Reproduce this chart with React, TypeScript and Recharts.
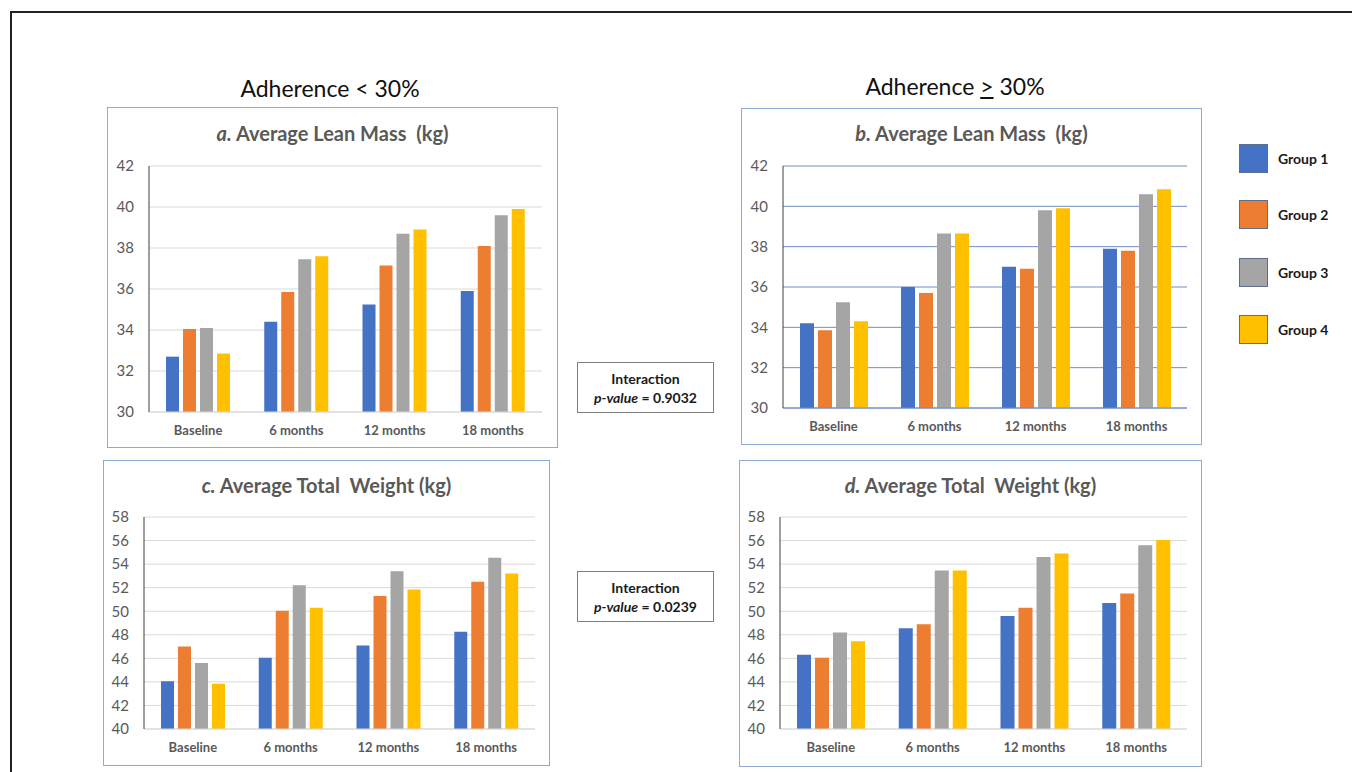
import React from 'react';
import { BarChart, Bar, XAxis, YAxis, CartesianGrid } from 'recharts';

const categories = ['Baseline', '6 months', '12 months', '18 months'];
const groups = ['Group 1', 'Group 2', 'Group 3', 'Group 4'];
const colors = ['#4472c4', '#ed7d31', '#a5a5a5', '#ffc000'];

// a. lean mass, adherence < 30%
const leanLowG1 = [32.7, 34.4, 35.25, 35.9];
const leanLowG2 = [34.05, 35.85, 37.15, 38.1];
const leanLowG3 = [34.1, 37.45, 38.7, 39.6];
const leanLowG4 = [32.85, 37.6, 38.9, 39.9];

// b. lean mass, adherence >= 30%
const leanHighG1 = [34.2, 36.0, 37.0, 37.9];
const leanHighG2 = [33.85, 35.7, 36.9, 37.8];
const leanHighG3 = [35.25, 38.65, 39.8, 40.6];
const leanHighG4 = [34.3, 38.65, 39.9, 40.85];

// c. total weight, adherence < 30%
const weightLowG1 = [44.05, 46.05, 47.1, 48.25];
const weightLowG2 = [47.0, 50.05, 51.3, 52.5];
const weightLowG3 = [45.6, 52.2, 53.4, 54.55];
const weightLowG4 = [43.85, 50.3, 51.85, 53.2];

// d. total weight, adherence >= 30%
const weightHighG1 = [46.3, 48.55, 49.6, 50.7];
const weightHighG2 = [46.05, 48.9, 50.3, 51.5];
const weightHighG3 = [48.2, 53.45, 54.6, 55.6];
const weightHighG4 = [47.45, 53.45, 54.9, 56.05];

const leanTicks = [30, 32, 34, 36, 38, 40, 42];
const weightTicks = [40, 42, 44, 46, 48, 50, 52, 54, 56, 58];

const toRows = (g1: number[], g2: number[], g3: number[], g4: number[]) =>
  categories.map((name, i) => ({ name, g1: g1[i], g2: g2[i], g3: g3[i], g4: g4[i] }));

const FONT = 'Lato, "Open Sans", sans-serif';
const TEXT_GRAY = '#595959';
const BOX_BORDER = '#8faad6';

type Box = { x: number; y: number; w: number; h: number };
type Plot = { l: number; r: number; t: number; b: number };

interface PanelProps {
  box: Box;
  plot: Plot;
  letter: string;
  title: string;
  titleY: number;
  rows: ReturnType<typeof toRows>;
  ticks: number[];
  gridColor: string;
  barSize: number;
  barGap: number;
}

function Panel({ box, plot, letter, title, titleY, rows, ticks, gridColor, barSize, barGap }: PanelProps) {
  const xAxisHeight = 30;
  return (
    <>
      <div
        style={{
          position: 'absolute',
          left: box.x,
          top: box.y,
          width: box.w,
          height: box.h,
          border: `1px solid ${BOX_BORDER}`,
          boxSizing: 'border-box',
        }}
      />
      <div
        style={{
          position: 'absolute',
          left: box.x,
          width: box.w,
          top: titleY - 13,
          height: 26,
          lineHeight: '26px',
          textAlign: 'center',
          fontFamily: FONT,
          fontWeight: 700,
          fontSize: 20,
          color: TEXT_GRAY,
          whiteSpace: 'pre',
        }}
      >
        <span style={{ fontStyle: 'italic' }}>{letter}</span>
        {title}
      </div>
      <div style={{ position: 'absolute', left: box.x, top: box.y }}>
        <BarChart
          width={box.w}
          height={box.h}
          data={rows}
          barSize={barSize}
          barGap={barGap}
          margin={{
            top: plot.t - box.y,
            right: box.x + box.w - plot.r,
            left: 0,
            bottom: box.y + box.h - plot.b - xAxisHeight,
          }}
        >
          <CartesianGrid vertical={false} stroke={gridColor} strokeWidth={1} />
          <XAxis
            dataKey="name"
            height={xAxisHeight}
            axisLine={{ stroke: gridColor }}
            tickLine={false}
            tickMargin={8}
            tick={{ fill: TEXT_GRAY, fontSize: 13, fontWeight: 700, fontFamily: FONT }}
          />
          <YAxis
            width={plot.l - box.x}
            domain={[ticks[0], ticks[ticks.length - 1]]}
            ticks={ticks}
            interval={0}
            allowDataOverflow
            axisLine={{ stroke: '#404040' }}
            tickLine={false}
            tickMargin={9}
            tick={{ fill: TEXT_GRAY, fontSize: 15, fontFamily: FONT }}
          />
          {['g1', 'g2', 'g3', 'g4'].map((k, i) => (
            <Bar key={k} dataKey={k} fill={colors[i]} isAnimationActive={false} />
          ))}
        </BarChart>
      </div>
    </>
  );
}

function InteractionBox({ y, pValue }: { y: number; pValue: string }) {
  return (
    <div
      style={{
        position: 'absolute',
        left: 577,
        top: y,
        width: 137,
        height: 51,
        border: '1px solid #7f7f7f',
        boxSizing: 'border-box',
        fontFamily: FONT,
        fontWeight: 700,
        fontSize: 14,
        color: '#1a1a1a',
        textAlign: 'center',
        lineHeight: '19px',
        paddingTop: 6,
      }}
    >
      <div>Interaction</div>
      <div>
        <span style={{ fontStyle: 'italic' }}>p-value</span> = {pValue}
      </div>
    </div>
  );
}

const legendTops = [144, 200, 258, 315];

export default function App() {
  return (
    <div
      style={{
        position: 'absolute',
        left: 0,
        top: 0,
        width: 1352,
        height: 772,
        overflow: 'hidden',
        background: '#ffffff',
      }}
    >
      <div
        style={{
          position: 'absolute',
          left: 10,
          top: 11,
          width: 1400,
          height: 800,
          borderTop: '2px solid #222',
          borderLeft: '2px solid #222',
        }}
      />
      <div
        style={{
          position: 'absolute',
          left: 180,
          width: 300,
          top: 73,
          height: 30,
          lineHeight: '30px',
          textAlign: 'center',
          fontFamily: FONT,
          fontSize: 23,
          color: '#111',
        }}
      >
        Adherence {'<'} 30%
      </div>
      <div
        style={{
          position: 'absolute',
          left: 805,
          width: 300,
          top: 71,
          height: 30,
          lineHeight: '30px',
          textAlign: 'center',
          fontFamily: FONT,
          fontSize: 23,
          color: '#111',
        }}
      >
        Adherence <span style={{ textDecoration: 'underline' }}>{'>'}</span> 30%
      </div>

      <Panel
        box={{ x: 107, y: 107, w: 451, h: 341 }}
        plot={{ l: 149, r: 542, t: 166, b: 412 }}
        letter="a."
        title=" Average Lean Mass  (kg)"
        titleY={133}
        rows={toRows(leanLowG1, leanLowG2, leanLowG3, leanLowG4)}
        ticks={leanTicks}
        gridColor="#d9d9d9"
        barSize={13}
        barGap={4}
      />
      <Panel
        box={{ x: 741, y: 108, w: 461, h: 337 }}
        plot={{ l: 783, r: 1187, t: 166, b: 408 }}
        letter="b."
        title=" Average Lean Mass  (kg)"
        titleY={133}
        rows={toRows(leanHighG1, leanHighG2, leanHighG3, leanHighG4)}
        ticks={leanTicks}
        gridColor="#6f8fc6"
        barSize={14}
        barGap={4}
      />
      <Panel
        box={{ x: 103, y: 460, w: 447, h: 306 }}
        plot={{ l: 144, r: 535, t: 517, b: 729 }}
        letter="c."
        title=" Average Total  Weight (kg)"
        titleY={485}
        rows={toRows(weightLowG1, weightLowG2, weightLowG3, weightLowG4)}
        ticks={weightTicks}
        gridColor="#d9d9d9"
        barSize={13}
        barGap={4}
      />
      <Panel
        box={{ x: 739, y: 460, w: 463, h: 307 }}
        plot={{ l: 780, r: 1187, t: 517, b: 729 }}
        letter="d."
        title=" Average Total  Weight (kg)"
        titleY={485}
        rows={toRows(weightHighG1, weightHighG2, weightHighG3, weightHighG4)}
        ticks={weightTicks}
        gridColor="#d9d9d9"
        barSize={14}
        barGap={4}
      />

      <InteractionBox y={362} pValue="0.9032" />
      <InteractionBox y={571} pValue="0.0239" />

      {groups.map((g, i) => (
        <React.Fragment key={g}>
          <div
            style={{
              position: 'absolute',
              left: 1239,
              top: legendTops[i],
              width: 29,
              height: 29,
              background: colors[i],
              border: '1px solid #5b6e8c',
              boxSizing: 'border-box',
            }}
          />
          <div
            style={{
              position: 'absolute',
              left: 1278,
              top: legendTops[i] + 4,
              height: 21,
              lineHeight: '21px',
              fontFamily: FONT,
              fontWeight: 700,
              fontSize: 14,
              color: '#1a1a1a',
            }}
          >
            {g}
          </div>
        </React.Fragment>
      ))}
    </div>
  );
}
